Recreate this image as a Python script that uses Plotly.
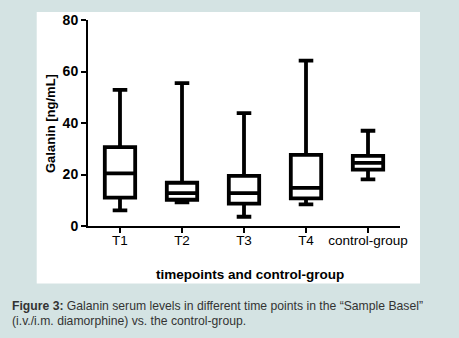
import plotly.graph_objects as go

categories = ["T1", "T2", "T3", "T4", "control-group"]
lower = [6.1, 9.2, 3.6, 8.4, 18.1]
q1 = [11.0, 10.2, 8.7, 10.7, 21.9]
median = [20.4, 12.8, 12.8, 14.8, 24.5]
q3 = [30.6, 16.8, 19.5, 27.6, 27.2]
upper = [52.9, 55.5, 43.8, 64.2, 37.0]
y_ticks = [0, 20, 40, 60, 80]

BG = "#d4e3e3"
FONT = "Liberation Sans, Arial, sans-serif"

fig = go.Figure()
fig.add_trace(go.Box(
    x=categories, q1=q1, median=median, q3=q3,
    lowerfence=lower, upperfence=upper,
    boxpoints=False, fillcolor="white",
    line=dict(color="black", width=3.8),
    whiskerwidth=0.48, showlegend=False,
))

fig.update_layout(
    width=459, height=338,
    margin=dict(l=88, r=59, t=17, b=112),
    paper_bgcolor=BG, plot_bgcolor="white",
    boxgap=0.3,
    font=dict(family=FONT, color="black", size=13),
    xaxis=dict(
        type="category", range=[-0.516, 4.516],
        showline=True, linecolor="black", linewidth=2,
        ticks="outside", ticklen=5, tickwidth=2, tickcolor="black",
        showgrid=False, zeroline=False,
        ticklabelstandoff=-4,
        tickfont=dict(size=13.5, family=FONT, color="black"),
    ),
    yaxis=dict(
        range=[0, 80], tickvals=y_ticks,
        showline=True, linecolor="black", linewidth=2,
        ticks="outside", ticklen=5, tickwidth=2, tickcolor="black",
        showgrid=False, zeroline=False,
        tickfont=dict(size=14, family=FONT, color="black", weight="bold"),
    ),
    shapes=[dict(
        type="rect", xref="paper", yref="paper",
        x0=-0.1644, x1=1.0641, y0=-0.279, y1=1.0383,
        fillcolor="white", line=dict(width=0), layer="below",
    )],
    annotations=[
        dict(text="<b>Galanin [ng/mL]</b>", xref="paper", yref="paper",
             x=-0.1218, y=0.5, textangle=-90, showarrow=False,
             xanchor="center", yanchor="middle",
             font=dict(size=13, family=FONT, color="black")),
        dict(text="<b>timepoints and control-group</b>", xref="paper", yref="paper",
             x=0.519, y=-0.2344, showarrow=False,
             xanchor="center", yanchor="middle",
             font=dict(size=13.5, family=FONT, color="black")),
        dict(text="<b>Figure 3:</b> Galanin serum levels in different time points in the \u201cSample Basel\u201d",
             xref="paper", yref="paper", x=-0.25, y=-0.3876,
             xanchor="left", yanchor="middle", showarrow=False,
             font=dict(size=12.2, family=FONT, color="#333333")),
        dict(text="(i.v./i.m. diamorphine) vs. the control-group.",
             xref="paper", yref="paper", x=-0.25, y=-0.459,
             xanchor="left", yanchor="middle", showarrow=False,
             font=dict(size=12.2, family=FONT, color="#333333")),
    ],
)

fig.write_html("out.html")
